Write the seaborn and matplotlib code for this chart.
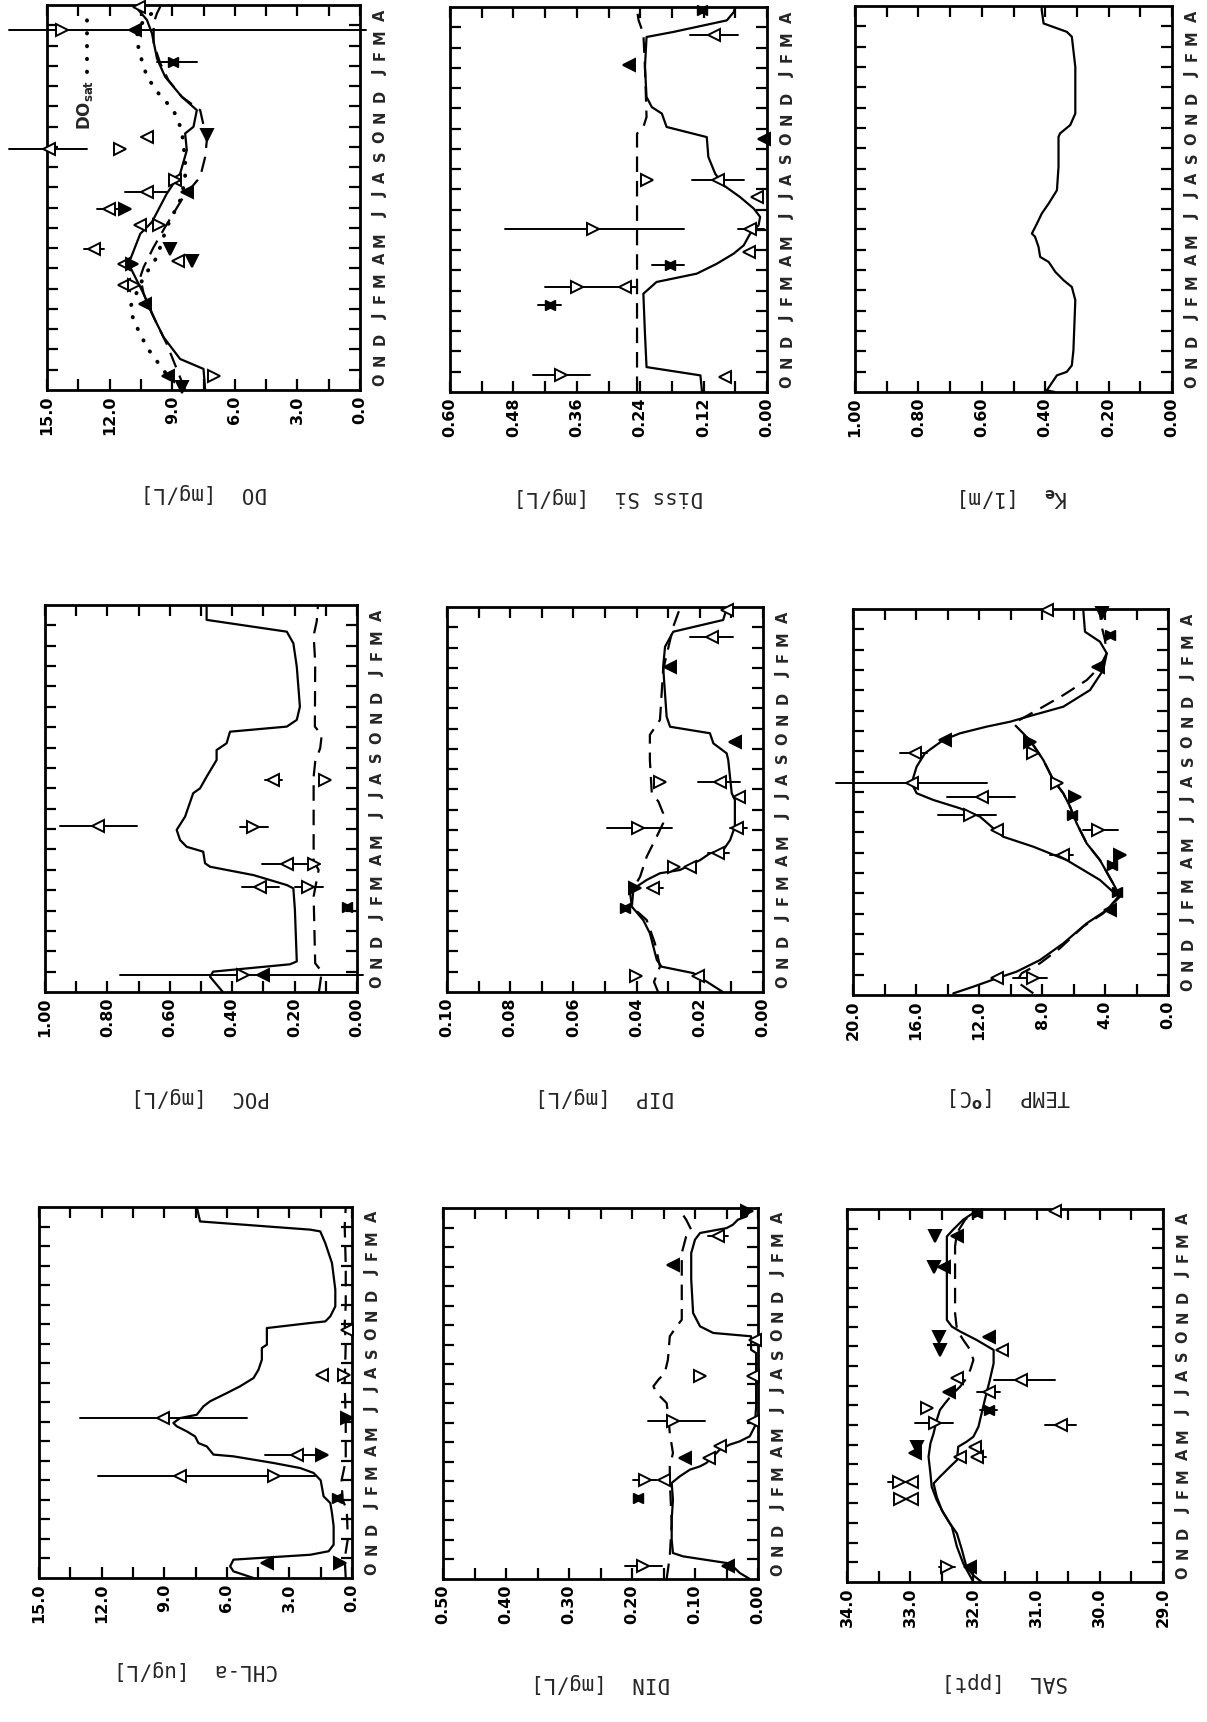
import numpy as np
import pandas as pd
import matplotlib
matplotlib.use("Agg")
import matplotlib.pyplot as plt
import seaborn as sns

# ---------------- data (t = months since 1 Oct, v = value) ----------------
MONTHS = list("ONDJFMAMJJASONDJFMA")

# DO
do_s_t = [0, 1.04, 1.53, 2.6, 3.76, 4.75, 5.4, 6.23, 7.71, 8.29, 9.69, 10.68, 11.83, 12.66, 12.99,
          13.81, 14.47, 15.46, 16.36, 17.6, 18.26, 18.84, 19]
do_s_v = [7.42, 7.50, 8.62, 9.41, 9.97, 10.37, 10.69, 11.09, 10.53, 9.97, 9.26, 8.62, 8.30, 8.38, 7.98,
          7.82, 8.54, 9.34, 9.73, 9.97, 10.21, 10.69, 10.85]
do_d_t = [0, 2.27, 3.43, 4.75, 5.57, 6.06, 7.05, 8.04, 9.53, 10.51, 11.5, 12.33, 13.81, 14.47, 15.29,
          16.12, 17.1, 18.1, 18.59, 18.92]
do_d_v = [8.38, 9.26, 9.81, 10.37, 10.53, 10.37, 9.89, 9.34, 8.46, 7.66, 7.42, 7.34, 7.66, 8.54, 9.18,
          9.57, 9.89, 9.89, 9.73, 9.57]
do_sat_t = [0.87, 2.1, 3.43, 4.09, 5.57, 6.56, 8.04, 9.36, 10.35, 11.34, 12.82, 13.81, 14.63, 15.46,
            16.78, 17.76, 18.42, 18.75]
do_sat_v = [9.34, 10.21, 10.85, 11.01, 10.37, 9.73, 9.26, 8.62, 8.38, 8.38, 8.54, 8.94, 9.65, 10.21,
            10.61, 10.69, 10.21, 9.73]
do_lead_t = [15.7, 18.6]
do_lead_v = [13.1, 13.1]
do_obs = [(11.91, 14.92, 'L', 13.09, 16.83), (17.76, 14.3, 'R', -0.3, 16.8), (17.76, 10.77, 'l', None, None),
          (18.9, 10.6, 'L', None, None), (16.2, 8.94, 'b', 7.82, 9.73), (12.57, 7.34, 'd', None, None),
          (12.49, 10.21, 'L', 9.9, 10.5), (11.91, 11.49, 'R', None, None), (10.35, 8.86, 'L', None, None),
          (10.35, 8.86, 'R', None, None), (9.77, 10.21, 'L', 9.26, 11.25), (9.77, 8.30, 'l', None, None),
          (8.95, 12.05, 'L', 11.5, 12.6), (8.95, 11.25, 'r', None, None), (8.12, 10.53, 'L', None, None),
          (8.12, 9.65, 'R', None, None), (6.97, 12.77, 'L', 12.29, 13.25), (6.97, 9.10, 'd', None, None),
          (6.39, 8.70, 'L', None, None), (6.39, 8.06, 'd', None, None), (6.23, 11.33, 'L', None, None),
          (6.23, 10.93, 'r', None, None), (5.16, 11.33, 'L', None, None), (5.16, 10.85, 'R', None, None),
          (4.25, 10.29, 'l', None, None), (0.71, 9.18, 'l', None, None), (0.71, 7.02, 'R', None, None),
          (0.13, 8.54, 'd', None, None)]

# Diss Si
si_s_t = [0, 0.82, 1.23, 2.88, 4.85, 5.43, 5.84, 6.33, 6.83, 7.24, 7.81, 8.23, 8.64, 9.05, 9.62, 10.2,
          10.77, 11.6, 12.58, 13.08, 13.74, 14.06, 14.56, 16.04, 17.52, 17.77, 18.34, 18.75, 19]
si_s_v = [0.123, 0.126, 0.228, 0.231, 0.234, 0.209, 0.133, 0.095, 0.063, 0.044, 0.032, 0.016, 0.013,
          0.025, 0.051, 0.082, 0.098, 0.111, 0.114, 0.190, 0.199, 0.218, 0.228, 0.231, 0.228, 0.177,
          0.076, 0.063, 0.060]
si_d_t = [0, 4.52, 6.17, 11.1, 12.75, 13.08, 13.57, 16.04, 17.68, 18.34, 18.84]
si_d_v = [0.246, 0.246, 0.246, 0.246, 0.246, 0.234, 0.228, 0.231, 0.234, 0.243, 0.246]
si_obs = [(0.82, 0.389, 'R', 0.335, 0.442), (0.74, 0.079, 'L', None, None), (4.28, 0.411, 'b', 0.389, 0.433),
          (5.18, 0.360, 'R', 0.246, 0.42), (5.18, 0.269, 'L', None, None), (6.25, 0.183, 'b', 0.158, 0.218),
          (6.91, 0.035, 'L', None, None), (8.06, 0.329, 'R', 0.158, 0.496), (8.06, 0.032, 'L', 0.006, 0.054),
          (9.62, 0.019, 'L', None, None), (10.45, 0.228, 'R', None, None), (10.45, 0.092, 'L', 0.044, 0.142),
          (12.5, 0.006, 'l', None, None), (16.12, 0.262, 'l', None, None), (17.6, 0.101, 'L', 0.054, 0.145),
          (18.84, 0.123, 'b', None, None)]

# K_e
ke_t = [0, 0.08, 0.82, 0.99, 1.31, 2.05, 4.52, 5.17, 5.5, 5.91, 6.4, 6.65, 7.14, 7.64, 7.8, 8.29, 8.78,
        9.28, 9.93, 11.08, 12.56, 12.73, 13.14, 13.71, 16.0, 17.49, 17.73, 18.14, 18.8, 19]
ke_v = [0.37, 0.395, 0.363, 0.332, 0.316, 0.311, 0.305, 0.316, 0.342, 0.368, 0.389, 0.416, 0.421, 0.432,
        0.442, 0.426, 0.411, 0.389, 0.363, 0.358, 0.358, 0.353, 0.321, 0.305, 0.305, 0.316, 0.332, 0.405,
        0.411, 0.411]

# POC
poc_s_t = [0, 0.75, 1.0, 1.36, 1.5, 4.03, 5.09, 5.25, 5.74, 6.15, 6.32, 6.89, 7.13, 7.46, 7.96, 8.61,
           9.76, 10.0, 10.57, 11.39, 11.88, 12.21, 12.78, 13.03, 13.36, 14.01, 15.97, 17.12, 17.69, 18.27, 19]
poc_s_v = [0.43, 0.471, 0.461, 0.215, 0.193, 0.199, 0.204, 0.225, 0.332, 0.471, 0.487, 0.493, 0.546,
           0.567, 0.578, 0.551, 0.525, 0.503, 0.482, 0.450, 0.450, 0.418, 0.407, 0.225, 0.193, 0.183,
           0.193, 0.204, 0.225, 0.482, 0.482]
poc_d_t = [0, 1.0, 1.41, 4.69, 6.0, 6.4, 10.57, 11.3, 11.97, 12.62, 13.03, 16.2, 17.5, 18.2, 19]
poc_d_v = [0.122, 0.113, 0.134, 0.139, 0.123, 0.139, 0.139, 0.134, 0.118, 0.113, 0.135, 0.134, 0.139,
           0.129, 0.125]
poc_obs = [(8.17, 0.829, 'L', 0.706, 0.952), (8.1, 0.332, 'R', 0.284, 0.375), (10.41, 0.268, 'L', 0.24, 0.295),
           (10.41, 0.103, 'R', None, None), (6.28, 0.225, 'L', 0.139, 0.305), (6.28, 0.139, 'R', 0.118, 0.16),
           (5.14, 0.311, 'L', 0.25, 0.37), (5.14, 0.156, 'R', 0.11, 0.2), (4.19, 0.033, 'b', None, None),
           (0.83, 0.365, 'R', -0.02, 0.76), (0.83, 0.30, 'l', None, None)]

# DIP
dip_s_t = [0, 0.93, 1.25, 1.58, 2.9, 3.55, 4.21, 4.95, 5.2, 5.53, 5.86, 6.02, 6.51, 6.84, 7.0, 7.5, 8.16,
           9.48, 9.81, 11.45, 11.78, 12.27, 12.77, 13.09, 13.59, 16.05, 17.04, 17.78, 18.36, 18.93, 19]
dip_s_v = [0.0127, 0.022, 0.0321, 0.0336, 0.0358, 0.0379, 0.0415, 0.0421, 0.0400, 0.0368, 0.0326, 0.0263,
           0.0199, 0.0168, 0.0126, 0.0104, 0.0089, 0.0089, 0.0099, 0.0110, 0.0115, 0.0157, 0.0168, 0.0294,
           0.0305, 0.0316, 0.0310, 0.0284, 0.0126, 0.0115, 0.0115]
dip_d_t = [0, 0.5, 1.25, 2.4, 3.55, 4.21, 5.12, 5.69, 6.68, 7.68, 8.33, 8.82, 9.4, 9.81, 11.45, 12.69,
           13.43, 15.9, 18.03, 18.93]
dip_d_v = [0.0332, 0.0345, 0.0326, 0.0342, 0.0368, 0.0415, 0.0410, 0.0389, 0.0368, 0.0336, 0.0316, 0.0316,
           0.0331, 0.0352, 0.0358, 0.0358, 0.0326, 0.0316, 0.0284, 0.0263]
dip_obs = [(18.85, 0.0115, 'L', None, None), (17.5, 0.0162, 'L', 0.0095, 0.0231), (16.05, 0.0294, 'l', None, None),
           (12.35, 0.0089, 'l', None, None), (10.38, 0.0326, 'R', None, None), (10.38, 0.0136, 'L', 0.0073, 0.0205),
           (9.64, 0.0077, 'L', None, None), (8.08, 0.0394, 'R', 0.0289, 0.0495), (8.08, 0.0083, 'L', 0.0052, 0.0105),
           (6.84, 0.0141, 'L', 0.0109, 0.0173), (6.18, 0.0283, 'R', None, None), (6.18, 0.0231, 'L', None, None),
           (5.12, 0.0347, 'L', 0.0315, 0.0368), (5.12, 0.0405, 'r', None, None), (4.13, 0.0437, 'b', None, None),
           (0.8, 0.0403, 'R', None, None), (0.8, 0.0205, 'L', None, None)]

# TEMP
temp_s_t = [0.08, 0.41, 0.82, 1.15, 1.72, 2.54, 3.53, 4.18, 4.84, 5.66, 6.64, 7.3, 7.79, 8.28, 8.78, 9.19,
            9.6, 9.93, 10.42, 11.24, 11.9, 12.55, 12.88, 13.21, 13.45, 13.78, 14.19, 15.01, 16.0, 16.82,
            17.39, 17.88, 18.95]
temp_s_v = [13.63, 12.36, 10.88, 9.61, 8.13, 6.65, 5.16, 3.89, 3.15, 4.32, 6.43, 8.55, 10.46, 11.2, 11.94,
            13.21, 14.9, 15.96, 16.28, 15.96, 15.43, 14.27, 13.21, 11.51, 10.03, 8.55, 6.65, 4.95, 4.11,
            3.89, 4.32, 5.27, 5.38]
temp_d_t = [0.08, 0.66, 1.07, 1.56, 2.3, 3.37, 4.02, 4.84, 5.33, 6.64, 7.46, 8.45, 9.27, 9.93, 10.58,
            11.57, 12.3, 12.71, 13.37, 14.1, 14.76, 15.5, 16.16, 16.82, 17.47, 18.13, 18.78, 19]
temp_d_v = [8.55, 9.61, 9.29, 8.13, 6.86, 5.38, 4.11, 3.05, 3.37, 4.32, 5.16, 5.8, 6.22, 6.65, 7.28, 7.92,
            8.55, 8.98, 9.82, 8.13, 6.65, 5.16, 4.32, 3.89, 4.0, 4.21, 4.32, 4.32]
temp_b_t = [4.84, 5.33, 6.64, 7.46, 8.45, 9.27, 9.93, 10.58, 11.57, 12.3, 12.71]
temp_b_v = [3.05, 3.37, 4.32, 5.16, 5.8, 6.22, 6.65, 7.28, 7.92, 8.55, 8.98]
temp_obs = [(18.95, 7.7, 'L', None, None), (18.8, 4.21, 'd', None, None), (17.72, 3.68, 'b', None, None),
            (16.16, 4.42, 'l', None, None), (12.55, 14.16, 'l', None, None), (11.9, 16.06, 'L', 15.3, 17.0),
            (12.47, 8.76, 'r', None, None), (11.9, 8.55, 'R', None, None), (10.42, 16.28, 'L', 11.5, 21.1),
            (10.42, 7.07, 'R', None, None), (9.76, 11.83, 'L', 9.71, 14.05), (9.76, 5.9, 'r', None, None),
            (8.86, 12.57, 'R', 10.9, 14.6), (8.86, 6.12, 'b', None, None), (8.12, 10.88, 'L', None, None),
            (8.12, 4.42, 'R', 3.15, 5.38), (6.89, 6.65, 'L', 6.01, 7.49), (6.89, 3.05, 'r', None, None),
            (6.4, 3.58, 'b', None, None), (5.09, 3.26, 'b', None, None), (4.18, 3.68, 'l', None, None),
            (0.82, 10.88, 'L', None, None), (0.82, 8.55, 'R', 7.7, 9.82)]

# CHL-a
chl_s_t = [0, 0.34, 0.6, 0.94, 1.19, 1.37, 1.71, 2.65, 3.33, 3.84, 4.18, 5.0, 5.38, 5.63, 5.89, 6.23,
           6.32, 6.74, 6.91, 7.25, 7.51, 7.77, 7.94, 8.19, 8.36, 8.79, 9.05, 9.47, 9.82, 10.24, 10.67,
           11.18, 11.78, 11.95, 12.8, 13.06, 13.14, 13.4, 13.91, 14.77, 16.13, 17.15, 17.75, 17.84, 18.26, 19]
chl_s_v = [4.72, 5.68, 5.84, 5.68, 2.0, 1.12, 0.88, 0.88, 0.96, 1.04, 1.36, 1.5, 1.84, 2.48, 3.76, 5.68,
           6.64, 6.96, 7.36, 7.52, 7.92, 8.4, 8.56, 8.24, 7.44, 7.12, 6.8, 6.0, 5.36, 4.72, 4.48, 4.32,
           4.32, 4.08, 4.08, 2.0, 1.28, 1.04, 0.8, 0.8, 0.96, 1.28, 1.52, 2.0, 7.28, 7.44]
chl_d_t = [0, 1.0, 2.0, 3.5, 4.0, 5.0, 6.0, 8.0, 10.0, 12.0, 13.0, 14.0, 16.0, 18.0, 19.0]
chl_d_v = [0.30, 0.35, 0.20, 0.25, 0.45, 0.50, 0.30, 0.30, 0.35, 0.30, 0.35, 0.30, 0.30, 0.35, 0.30]
chl_obs = [(0.77, 4.08, 'l', None, None), (0.77, 0.56, 'r', None, None), (4.1, 0.72, 'b', None, None),
           (5.21, 8.25, 'L', 1.76, 12.17), (5.21, 3.76, 'R', None, None), (6.32, 2.64, 'L', 1.36, 4.16),
           (6.32, 1.44, 'r', None, None), (8.19, 9.05, 'L', 5.04, 13.05), (8.19, 0.24, 'r', None, None),
           (10.41, 1.44, 'L', 1.2, 1.7), (10.41, 0.4, 'R', None, None), (12.72, 0.24, 'L', None, None)]

# DIN
din_s_t = [0, 0.31, 0.65, 0.82, 1.16, 1.33, 2.01, 3.04, 4.06, 4.92, 5.26, 5.6, 5.77, 5.94, 6.28, 6.62,
           6.88, 7.05, 7.31, 7.82, 8.84, 11.57, 11.74, 12.43, 12.6, 12.94, 13.62, 15.33, 16.69, 17.38,
           17.72, 17.97, 18.14, 18.4, 18.57, 18.95]
din_s_v = [0.013, 0.029, 0.040, 0.050, 0.119, 0.135, 0.137, 0.137, 0.135, 0.137, 0.124, 0.108, 0.092,
           0.082, 0.071, 0.061, 0.045, 0.029, 0.013, 0.005, 0.003, 0.003, 0.011, 0.011, 0.071, 0.092,
           0.103, 0.106, 0.106, 0.100, 0.092, 0.050, 0.040, 0.032, 0.018, 0.013]
din_d_t = [0, 1.16, 2.87, 5.09, 5.77, 6.45, 7.48, 8.5, 9.01, 9.53, 9.87, 10.21, 10.55, 11.23, 12.43,
           12.94, 13.28, 15.33, 16.69, 17.55, 17.89, 18.4, 18.74, 18.95]
din_d_v = [0.145, 0.140, 0.137, 0.140, 0.140, 0.135, 0.140, 0.143, 0.145, 0.161, 0.166, 0.158, 0.148,
           0.143, 0.140, 0.129, 0.121, 0.121, 0.121, 0.114, 0.106, 0.114, 0.121, 0.129]
din_obs = [(0.65, 0.048, 'l', None, None), (0.65, 0.182, 'R', 0.153, 0.211), (4.15, 0.190, 'b', None, None),
           (5.09, 0.180, 'R', 0.161, 0.198), (5.09, 0.150, 'L', None, None), (6.2, 0.116, 'l', None, None),
           (6.2, 0.077, 'L', None, None), (6.79, 0.061, 'L', None, None), (8.07, 0.135, 'R', 0.084, 0.174),
           (8.07, 0.008, 'L', None, None), (10.38, 0.092, 'R', None, None), (10.38, 0.008, 'L', None, None),
           (12.26, 0.005, 'L', None, None), (16.1, 0.135, 'l', None, None), (17.55, 0.063, 'L', 0.047, 0.079),
           (18.83, 0.018, 'r', None, None)]

# SAL
sal_a_t = [0, 0.34, 0.77, 1.62, 2.47, 2.98, 3.66, 4.34, 5.02, 5.36, 5.87, 6.21, 6.89, 7.14, 7.4, 7.91,
           8.59, 9.27, 10.29, 11.14, 11.82, 12.33, 12.76, 13.01, 13.35, 15.39, 17.6, 17.95, 18.46, 18.8, 18.97]
sal_a_v = [31.87, 32.0, 32.11, 32.18, 32.26, 32.37, 32.5, 32.58, 32.63, 32.53, 32.37, 32.26, 32.24, 32.11,
           32.0, 31.92, 31.87, 31.82, 31.74, 31.68, 31.68, 31.95, 32.21, 32.34, 32.42, 32.42, 32.42, 32.32,
           32.16, 32.0, 31.92]
sal_b_t = [0, 0.94, 1.79, 2.81, 3.49, 4.17, 4.85, 5.53, 6.38, 7.06, 7.57, 8.25, 8.76]
sal_b_v = [32.0, 32.16, 32.26, 32.34, 32.47, 32.58, 32.66, 32.68, 32.71, 32.68, 32.63, 32.58, 32.53]
sal_d_t = [8.76, 9.1, 9.61, 9.95, 10.29, 10.8, 11.31, 11.82, 12.33, 12.84, 13.69, 15.39, 17.1, 17.78,
           18.46, 18.88]
sal_d_v = [32.53, 32.45, 32.32, 32.21, 32.13, 32.05, 32.0, 32.05, 32.16, 32.26, 32.29, 32.29, 32.29,
           32.26, 32.13, 31.97]
sal_obs = [(0.77, 32.42, 'R', 32.29, 32.55), (0.77, 32.05, 'l', None, None), (4.25, 33.16, 'R', None, None),
           (4.25, 32.97, 'L', None, None), (5.1, 33.18, 'R', 33.05, 33.35), (5.1, 32.97, 'L', None, None),
           (6.55, 32.92, 'l', None, None), (6.89, 32.89, 'd', None, None), (6.38, 32.21, 'L', None, None),
           (6.38, 31.95, 'L', 31.8, 32.03), (6.89, 31.97, 'L', None, None), (7.99, 30.61, 'L', 30.37, 30.87),
           (8.08, 32.6, 'R', 32.32, 32.92), (8.85, 32.74, 'R', None, None), (8.76, 31.76, 'b', 31.63, 31.89),
           (9.7, 31.76, 'L', 31.58, 31.95), (9.7, 32.39, 'l', None, None), (10.38, 32.26, 'L', None, None),
           (10.29, 31.24, 'L', 30.71, 31.68), (11.82, 32.53, 'd', None, None), (11.82, 31.55, 'L', 31.45, 31.63),
           (12.5, 32.55, 'd', None, None), (12.5, 31.76, 'l', None, None), (16.07, 32.63, 'd', None, None),
           (16.07, 32.47, 'l', None, None), (17.6, 32.61, 'd', None, None), (17.6, 32.26, 'l', None, None),
           (18.8, 31.95, 'b', None, None), (18.88, 30.71, 'L', None, None)]

# ---------------- styling ----------------
sns.set_theme(style="ticks")
plt.rcParams["font.family"] = ["DejaVu Sans"]
plt.rcParams["font.weight"] = "bold"
plt.rcParams["axes.grid"] = False

W, H = 1207, 1722
fig = plt.figure(figsize=(W / 100, H / 100), dpi=100)
fig.patch.set_facecolor("white")

MK = {"L": ("<", False), "R": (">", False), "l": ("<", True), "r": (">", True), "d": ("v", True)}


def line(ax, t, v, style="solid"):
    df = pd.DataFrame({"t": t, "v": v})
    kw = dict(color="black", linewidth=1.6)
    if style == "dash":
        kw["linestyle"] = (0, (7, 4))
    elif style == "dot":
        kw.update(linestyle=(0, (0.1, 3.2)), linewidth=2.8, dash_capstyle="round")
    sns.lineplot(data=df, x="v", y="t", sort=False, estimator=None, ax=ax, **kw)


def observations(ax, obs):
    for t, v, m, lo, hi in obs:
        if lo is not None:
            ax.plot([lo, hi], [t, t], color="black", lw=1.4, clip_on=False, zorder=3)
        if m == "b":
            for mk in ("<", ">"):
                ax.plot(v, t, marker=mk, ms=6.5, mfc="black", mec="black", ls="none",
                        clip_on=False, zorder=4)
        else:
            mk, filled = MK[m]
            ax.plot(v, t, marker=mk, ms=8, mfc="black" if filled else "white", mec="black",
                    mew=1.4, ls="none", clip_on=False, zorder=4)


def make_axes(x0, x1, yt, yb):
    return fig.add_axes([x0 / W, 1 - yb / H, (x1 - x0) / W, (yb - yt) / H])


def setup(ax, bounds, vmax, vmin, major, minor, fmt, label, off):
    x0, x1, yt, yb = bounds
    ax.set_xlim(vmax, vmin)
    ax.set_ylim(0, 19)
    ax.set_xlabel("")
    ax.set_ylabel("")
    maj = np.round(np.arange(vmin, vmax + major / 2, major), 6)
    mnr = np.round(np.arange(vmin, vmax + minor / 2, minor), 6)
    mnr = [m for m in mnr if not np.any(np.isclose(m, maj))]
    ax.set_xticks(maj)
    ax.set_xticklabels([fmt % m for m in maj])
    ax.set_xticks(mnr, minor=True)
    ax.tick_params(axis="x", which="both", direction="in", bottom=True, top=True,
                   length=8, width=1.6, colors="black")
    ax.tick_params(axis="x", which="major", labelrotation=90, labelsize=11.5, pad=4)
    ax.set_yticks(np.arange(1, 19))
    ax.set_yticklabels([])
    ax.set_yticks(np.arange(19) + 0.5, minor=True)
    ax.set_yticklabels(MONTHS, minor=True)
    ax.tick_params(axis="y", which="major", direction="in", left=True, right=True,
                   length=8, width=1.6, labelleft=False, labelright=False, colors="black")
    ax.tick_params(axis="y", which="minor", length=0, left=False, right=False, labelleft=False,
                   labelright=True, labelrotation=90, labelsize=10.5, pad=9)
    for lab in ax.get_xticklabels() + ax.get_yticklabels(minor=True):
        lab.set_fontweight("bold")
    for sp in ax.spines.values():
        sp.set_visible(True)
        sp.set_linewidth(2.0)
        sp.set_color("black")
    ax.set_facecolor("white")
    ax.text(0.5, -off / (yb - yt), label, transform=ax.transAxes, rotation=180,
            ha="center", va="center", fontsize=15, family="DejaVu Sans Mono", fontweight="normal")


# ---------------- panels ----------------
# DO
b = (47, 360, 5, 390)
ax = make_axes(*b)
line(ax, do_s_t, do_s_v)
line(ax, do_d_t, do_d_v, "dash")
line(ax, do_sat_t, do_sat_v, "dot")
line(ax, do_lead_t, do_lead_v, "dot")
observations(ax, do_obs)
ax.text(13.16, 14.05, r"DO$_{\mathbf{sat}}$", rotation=90, ha="center", va="center", fontsize=12,
        fontweight="bold")
setup(ax, b, 15, 0, 3, 1.5, "%.1f", "DO  [mg/L]", 103)

# Diss Si
b = (450, 767, 7, 392)
ax = make_axes(*b)
line(ax, si_s_t, si_s_v)
line(ax, si_d_t, si_d_v, "dash")
observations(ax, si_obs)
setup(ax, b, 0.6, 0, 0.12, 0.06, "%.2f", "Diss Si  [mg/L]", 105)

# K_e
b = (855, 1172, 6, 392)
ax = make_axes(*b)
line(ax, ke_t, ke_v)
setup(ax, b, 1.0, 0, 0.2, 0.1, "%.2f", r"K$_{\rm e}$  [1/m]", 105)

# POC
b = (45, 357, 605, 992)
ax = make_axes(*b)
line(ax, poc_s_t, poc_s_v)
line(ax, poc_d_t, poc_d_v, "dash")
observations(ax, poc_obs)
setup(ax, b, 1.0, 0, 0.2, 0.1, "%.2f", "POC  [mg/L]", 105)

# DIP
b = (447, 763, 607, 992)
ax = make_axes(*b)
line(ax, dip_s_t, dip_s_v)
line(ax, dip_d_t, dip_d_v, "dash")
observations(ax, dip_obs)
setup(ax, b, 0.1, 0, 0.02, 0.01, "%.2f", "DIP  [mg/L]", 105)

# TEMP
b = (853, 1168, 609, 995)
ax = make_axes(*b)
line(ax, temp_s_t, temp_s_v)
line(ax, temp_d_t, temp_d_v, "dash")
line(ax, temp_b_t, temp_b_v)
observations(ax, temp_obs)
setup(ax, b, 20, 0, 4, 2, "%.1f", r"TEMP  [$^{\rm o}$C]", 102)

# CHL-a
b = (39, 352, 1207, 1578)
ax = make_axes(*b)
line(ax, chl_s_t, chl_s_v)
line(ax, chl_d_t, chl_d_v, "dash")
observations(ax, chl_obs)
setup(ax, b, 15, 0, 3, 1.5, "%.1f", "CHL-a  [ug/L]", 92)

# DIN
b = (443, 758, 1208, 1579)
ax = make_axes(*b)
line(ax, din_s_t, din_s_v)
line(ax, din_d_t, din_d_v, "dash")
observations(ax, din_obs)
setup(ax, b, 0.5, 0, 0.1, 0.05, "%.2f", "DIN  [mg/L]", 104)

# SAL
b = (847, 1163, 1209, 1582)
ax = make_axes(*b)
line(ax, sal_a_t, sal_a_v)
line(ax, sal_b_t, sal_b_v)
line(ax, sal_d_t, sal_d_v, "dash")
observations(ax, sal_obs)
setup(ax, b, 34, 29, 1, 0.5, "%.1f", "SAL  [ppt]", 100)

fig.savefig("out.png", dpi=100, facecolor="white")
